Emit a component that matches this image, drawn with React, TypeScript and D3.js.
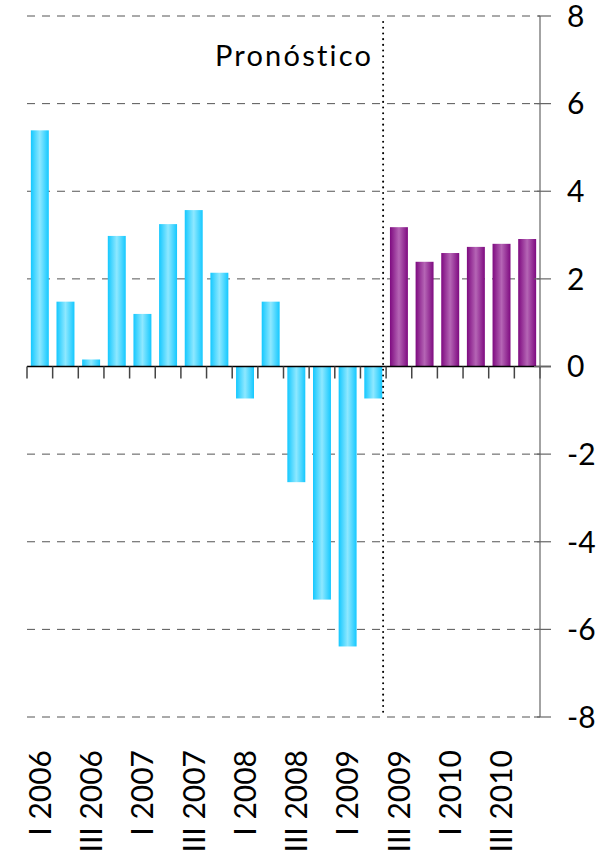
import * as React from 'react';
import * as d3 from 'd3';

const quarters = [
  'I 2006', 'II 2006', 'III 2006', 'IV 2006',
  'I 2007', 'II 2007', 'III 2007', 'IV 2007',
  'I 2008', 'II 2008', 'III 2008', 'IV 2008',
  'I 2009', 'II 2009', 'III 2009', 'IV 2009',
  'I 2010', 'II 2010', 'III 2010', 'IV 2010',
];
const growth = [
  5.39, 1.48, 0.16, 2.98, 1.2, 3.25, 3.57, 2.14, -0.73, 1.48,
  -2.64, -5.32, -6.39, -0.73, 3.18, 2.39, 2.59, 2.73, 2.8, 2.91,
];
const forecastFrom = 'III 2009';
const yTicks = [-8, -6, -4, -2, 0, 2, 4, 6, 8];
const forecastLabel = 'Pronóstico';

const width = 604, height = 862;
const left = 27, right = 540, top = 16, bottom = 717;
const font = 'Lato, "Open Sans", sans-serif';

const App = () => {
  const svgRef = React.useRef<SVGSVGElement>(null);

  React.useEffect(() => {
    const svg = d3.select(svgRef.current);
    svg.selectAll('*').remove();

    const x = d3.scaleBand().domain(quarters).range([left, right]).paddingInner(0.3).paddingOuter(0.15);
    const y = d3.scaleLinear().domain([-8, 8]).range([bottom, top]);

    const defs = svg.append('defs');
    const grad = (id: string, edge: string, mid: string) => {
      const g = defs.append('linearGradient').attr('id', id).attr('x1', 0).attr('x2', 1).attr('y1', 0).attr('y2', 0);
      g.append('stop').attr('offset', '0%').attr('stop-color', edge);
      g.append('stop').attr('offset', '50%').attr('stop-color', mid);
      g.append('stop').attr('offset', '100%').attr('stop-color', edge);
    };
    grad('blueGrad', '#14c8ff', '#8ee8ff');
    grad('purpleGrad', '#7e0a80', '#b565b5');

    // gridlines
    svg.append('g')
      .selectAll('line')
      .data(yTicks.filter(t => t !== 0))
      .join('line')
      .attr('x1', left).attr('x2', right)
      .attr('y1', d => y(d)).attr('y2', d => y(d))
      .attr('stroke', '#555')
      .attr('stroke-width', 1)
      .attr('stroke-dasharray', '8,7');

    // bars
    const forecastIdx = quarters.indexOf(forecastFrom);
    svg.append('g')
      .selectAll('rect')
      .data(growth)
      .join('rect')
      .attr('x', (d, i) => x(quarters[i])!)
      .attr('width', x.bandwidth())
      .attr('y', d => y(Math.max(0, d)))
      .attr('height', d => Math.abs(y(d) - y(0)))
      .attr('fill', (d, i) => i >= forecastIdx ? 'url(#purpleGrad)' : 'url(#blueGrad)');

    // zero axis with category ticks
    const step = x.step();
    const x0 = left;
    svg.append('line')
      .attr('x1', left).attr('x2', right + 11)
      .attr('y1', y(0)).attr('y2', y(0))
      .attr('stroke', '#000').attr('stroke-width', 1.5);
    svg.append('g')
      .selectAll('line')
      .data(d3.range(quarters.length + 1))
      .join('line')
      .attr('x1', i => x0 + i * step).attr('x2', i => x0 + i * step)
      .attr('y1', y(0)).attr('y2', y(0) + 12)
      .attr('stroke', '#444').attr('stroke-width', 1.5);

    // forecast divider
    const divX = x0 + forecastIdx * step - 3;
    svg.append('line')
      .attr('x1', divX).attr('x2', divX)
      .attr('y1', top + 6).attr('y2', bottom)
      .attr('stroke', '#000').attr('stroke-width', 2)
      .attr('stroke-linecap', 'round')
      .attr('stroke-dasharray', '0.1,5.6');

    svg.append('text')
      .attr('x', divX - 10).attr('y', 66)
      .attr('text-anchor', 'end')
      .attr('font-family', font).attr('font-size', 29)
      .attr('letter-spacing', 2.2)
      .text(forecastLabel);

    // y axis on the right
    svg.append('line')
      .attr('x1', right).attr('x2', right)
      .attr('y1', top).attr('y2', bottom)
      .attr('stroke', '#666').attr('stroke-width', 1.2);
    svg.append('g')
      .selectAll('line')
      .data(yTicks)
      .join('line')
      .attr('x1', d => d === 8 ? right - 2 : right - 6).attr('x2', right + 11)
      .attr('y1', d => y(d)).attr('y2', d => y(d))
      .attr('stroke', '#666').attr('stroke-width', 1.2);
    svg.append('g')
      .selectAll('text')
      .data(yTicks)
      .join('text')
      .attr('x', 567)
      .attr('y', d => y(d))
      .attr('dy', '0.36em')
      .attr('font-family', font).attr('font-size', 30)
      .text(d => String(d));

    // category labels, every other quarter
    svg.append('g')
      .selectAll('text')
      .data(quarters.filter((q, i) => i % 2 === 0))
      .join('text')
      .attr('transform', q => `translate(${x(q)! + x.bandwidth() / 2},750) rotate(-90)`)
      .attr('dy', '0.36em')
      .attr('text-anchor', 'end')
      .attr('font-family', font).attr('font-size', 30)
      .text(q => q);
  }, []);

  return (
    <svg ref={svgRef} width={width} height={height}
      style={{ position: 'absolute', top: 0, left: 0, background: '#fff' }} />
  );
};

export default App;
